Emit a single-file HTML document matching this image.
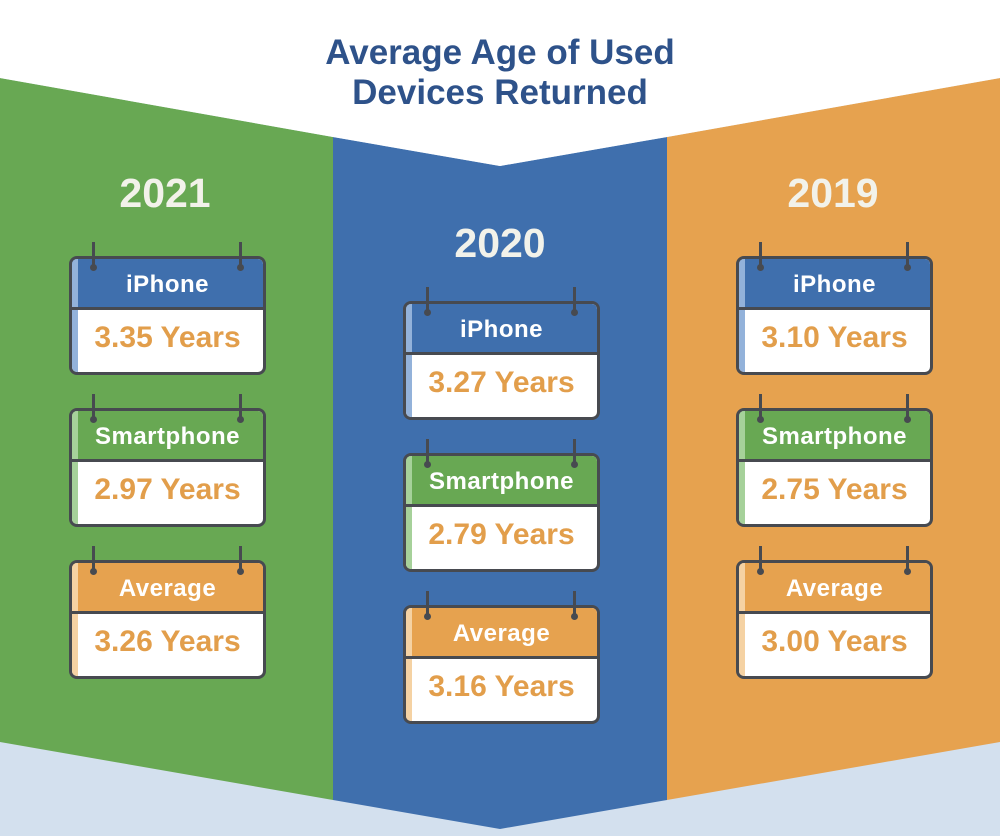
<!DOCTYPE html>
<html><head><meta charset="utf-8"><style>
body{margin:0;width:1000px;height:836px;overflow:hidden;font-family:"Liberation Sans",sans-serif;position:relative;background:#fff}
.yr{position:absolute;width:200px;text-align:center;color:#f2f2ea;font-weight:bold;font-size:41px;line-height:40px}
.card{position:absolute;width:191px;height:113px;border:3px solid #474a50;border-radius:8px;background:#fff;overflow:hidden;box-sizing:content-box}
.hd{height:48px;border-bottom:3px solid #474a50;color:#fff;font-weight:bold;font-size:24px;letter-spacing:0.5px;text-align:center;line-height:52px;position:relative;white-space:nowrap}
.val{color:#e29e4b;font-weight:bold;font-size:30px;text-align:center;line-height:56px;position:relative}
.stripe{position:absolute;left:0;top:0;bottom:0;width:6px}
.pin{position:absolute;width:3px;height:26px;background:#474a50}
.pin:after{content:"";position:absolute;left:-2px;bottom:-3px;width:7px;height:7px;border-radius:50%;background:#474a50}
</style></head><body>
<svg width="1000" height="836" style="position:absolute;left:0;top:0">
<rect x="0" y="0" width="1000" height="836" fill="#d3e0ee"/>
<polygon points="0,78 333,137 333,800 0,742" fill="#68a853"/>
<polygon points="333,137 500,166 667,137 667,800 500,829 333,800" fill="#3f6fad"/>
<polygon points="667,137 1000,78 1000,742 667,800" fill="#e6a24f"/>
<polygon points="0,0 1000,0 1000,78 667,137 500,166 333,137 0,78" fill="#fff"/>
</svg>
<div style="position:absolute;left:0;width:1000px;top:33px;text-align:center;color:#2e528a;font-weight:bold;font-size:35px;line-height:40px">Average Age of Used<br>Devices Returned</div>
<div class="yr" style="left:65px;top:173px">2021</div>
<div class="yr" style="left:400px;top:223px">2020</div>
<div class="yr" style="left:733px;top:173px">2019</div>
<div id="c"></div>
<script>
var cols=[[69,256],[403,301],[736,256]];
var data=[[["iPhone","3.35"],["Smartphone","2.97"],["Average","3.26"]],[["iPhone","3.27"],["Smartphone","2.79"],["Average","3.16"]],[["iPhone","3.10"],["Smartphone","2.75"],["Average","3.00"]]];
var hc=["#3f6fad","#68a853","#e6a24f"],sc=["#93b2da","#a6d19a","#f5d2a3"];
var h="";
for(var i=0;i<3;i++)for(var j=0;j<3;j++){var x=cols[i][0],y=cols[i][1]+j*152;
h+='<div class="card" style="left:'+x+'px;top:'+y+'px"><div class="hd" style="background:'+hc[j]+'"><div class="stripe" style="background:'+sc[j]+'"></div>'+data[i][j][0]+'</div><div class="val"><div class="stripe" style="background:'+sc[j]+';height:62px"></div>'+data[i][j][1]+' Years</div></div>';
h+='<div class="pin" style="left:'+(x+23)+'px;top:'+(y-14)+'px"></div><div class="pin" style="left:'+(x+170)+'px;top:'+(y-14)+'px"></div>';}
document.getElementById("c").innerHTML=h;
</script>
</body></html>
